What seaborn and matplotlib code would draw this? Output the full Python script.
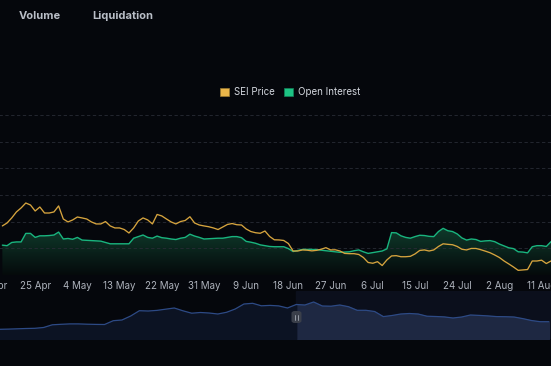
import numpy as np
import pandas as pd
import matplotlib
matplotlib.use("Agg")
import matplotlib.pyplot as plt
import matplotlib.dates as mdates
from matplotlib.colors import LinearSegmentedColormap
from matplotlib.patches import Rectangle, FancyBboxPatch
from matplotlib.lines import Line2D
import seaborn as sns

# daily values 18 Apr 2024 .. 13 Aug 2024
start_date = "2024-04-18"
sei_price = [
    0.568, 0.590, 0.628, 0.673, 0.703, 0.740, 0.725, 0.680, 0.710, 0.665,
    0.665, 0.673, 0.718, 0.620, 0.598, 0.613, 0.635, 0.628, 0.620, 0.598,
    0.583, 0.583, 0.601, 0.568, 0.553, 0.553, 0.541, 0.515, 0.553, 0.605,
    0.628, 0.613, 0.583, 0.654, 0.643, 0.620, 0.598, 0.583, 0.601, 0.609,
    0.637, 0.590, 0.575, 0.568, 0.562, 0.553, 0.541, 0.560, 0.579, 0.586,
    0.577, 0.575, 0.545, 0.526, 0.517, 0.513, 0.530, 0.489, 0.464, 0.463,
    0.459, 0.436, 0.380, 0.380, 0.388, 0.386, 0.381, 0.385, 0.393, 0.405,
    0.388, 0.389, 0.380, 0.362, 0.360, 0.360, 0.354, 0.331, 0.294, 0.288,
    0.300, 0.271, 0.313, 0.343, 0.345, 0.337, 0.337, 0.340, 0.358, 0.384,
    0.388, 0.380, 0.388, 0.414, 0.434, 0.430, 0.427, 0.414, 0.393, 0.388,
    0.399, 0.399, 0.390, 0.379, 0.367, 0.350, 0.331, 0.305, 0.283, 0.260,
    0.235, 0.238, 0.241, 0.305, 0.305, 0.311, 0.286, 0.305,
]
open_interest = [  # $M
    112, 110, 122, 124, 124, 156, 156, 141, 147, 147,
    148, 150, 161, 135, 137, 134, 141, 131, 130, 129,
    128, 127, 122, 117, 117, 117, 117, 117, 138, 144,
    150, 141, 138, 146, 140, 138, 135, 133, 138, 141,
    153, 146, 141, 135, 136, 137, 138, 138, 141, 144,
    144, 140, 126, 123, 119, 113, 110, 107, 106, 106,
    106, 99, 88, 92, 96, 96, 96, 95, 93, 91,
    89, 87, 85, 86, 87, 91, 94, 87, 81, 84,
    87, 90, 98, 159, 158, 147, 141, 138, 144, 149,
    148, 145, 144, 163, 175, 166, 163, 154, 139, 131,
    135, 133, 126, 128, 129, 125, 116, 109, 102, 99,
    87, 86, 83, 106, 110, 110, 107, 125,
]

# navigator series, every 4 days from 4 Dec 2023
nav_start = "2023-12-04"
nav_values = [
    97, 99, 102, 105, 107, 115, 142, 147, 151, 151,
    148, 146, 145, 183, 190, 230, 283, 280, 286, 298,
    310, 282, 258, 265, 260, 250, 267, 300, 350, 357,
    332, 336, 331, 310, 345, 340, 370, 330, 328, 340,
    323, 287, 287, 275, 224, 235, 250, 255, 250, 228,
    225, 221, 210, 220, 240, 236, 231, 224, 223, 220,
    204, 185, 173, 173,
]

tick_start = "2024-04-16"
tabs = ["Volume", "Liquidation"]
legend_labels = ["SEI Price", "Open Interest"]

BG = "#05070c"
YELLOW = "#d6a43e"
GREEN = "#19b47e"
NAV_LINE = "#2d4a85"

df = pd.DataFrame({
    "date": pd.date_range(start_date, periods=len(sei_price), freq="D"),
    "price": sei_price,
    "oi": open_interest,
})
nav = pd.DataFrame({
    "date": pd.date_range(nav_start, periods=len(nav_values), freq="4D"),
    "value": nav_values,
})
tick_dates = pd.date_range(tick_start, periods=14, freq="9D")
tick_labels = [f"{d.day} {d.strftime('%b')}" for d in tick_dates]

sns.set_theme(style="dark", rc={"axes.facecolor": BG, "figure.facecolor": BG})
plt.rcParams["font.family"] = ["Inter", "DejaVu Sans"]

W, H = 551, 366
fig = plt.figure(figsize=(W / 100, H / 100), dpi=100)

# main chart: plot area 115..275 px, x axis starts slightly left of the figure
left_px = -8.6
ax = fig.add_axes([left_px / W, (H - 275) / H, (W - left_px) / W, 160 / H])
ax.set_facecolor(BG)
ax2 = ax.twinx()

# gradient under open interest
x_num = mdates.date2num(df["date"])
poly = ax.fill_between(x_num, df["oi"], 0, facecolor="none", edgecolor="none")
cmap = LinearSegmentedColormap.from_list("oi_fill", ["#050a0b", "#0f3a2b"])
img = ax.imshow(np.linspace(0, 1, 256).reshape(-1, 1), cmap=cmap, aspect="auto",
                origin="lower", extent=[x_num[0], x_num[-1], 0, max(open_interest)],
                zorder=1)
img.set_clip_path(poly.get_paths()[0], transform=ax.transData)

sns.lineplot(data=df, x="date", y="oi", ax=ax, color=GREEN, linewidth=1.0, zorder=3)
sns.lineplot(data=df, x="date", y="price", ax=ax2, color=YELLOW, linewidth=0.95, zorder=3)

ax.set_ylim(0, 600)
ax.set_yticks(range(0, 601, 100))
ax2.set_ylim(0.2, 1.4)
ax.set_xlim(mdates.date2num(pd.Timestamp("2024-04-15 16:00")),
            mdates.date2num(pd.Timestamp("2024-08-13")))
ax.set_xticks(tick_dates)
ax.set_xticklabels(tick_labels)
ax.set_axisbelow("line")
ax.yaxis.grid(True, color="#282c35", linestyle=(0, (4, 3)), linewidth=0.6)
ax.xaxis.grid(False)
ax2.grid(False)
for a in (ax, ax2):
    for s in a.spines.values():
        s.set_visible(False)
    a.set_xlabel("")
    a.set_ylabel("")
    a.set_yticklabels([])
    a.tick_params(left=False, right=False, length=0)
ax.tick_params(axis="x", pad=4, labelsize=7, labelcolor="#aeb3bc")

# navigator (range selector) below the chart
nax = fig.add_axes([0, (H - 339) / H, 1, 48 / H])
nax.set_facecolor("#070a12")
sel_start = df["date"].iloc[0]
nav_end = pd.Timestamp("2024-08-13")
nax.axvspan(sel_start, nav_end, color="#0b0f1c", zorder=0)
nax.fill_between(nav["date"], nav["value"], 0,
                 where=nav["date"] >= sel_start - pd.Timedelta(days=4),
                 color="#1e2842", zorder=1)
nax.fill_between(nav["date"], nav["value"], 0,
                 where=nav["date"] <= sel_start, color="#0c1323", zorder=1.5)
sns.lineplot(data=nav, x="date", y="value", ax=nax, color=NAV_LINE, linewidth=0.9, zorder=2)
nax.set_xlim(nav["date"].iloc[0], nav_end)
nax.set_ylim(0, 480)
nax.axis("off")

# selector handle
hx, hy = 291.5, 311
fig.patches.append(FancyBboxPatch((hx / W, (H - hy - 12) / H), 10 / W, 12 / H,
                                  boxstyle="round,pad=0,rounding_size=0.006",
                                  transform=fig.transFigure, facecolor="#3a3f4a",
                                  edgecolor="none", zorder=5))
for dx in (-1.2, 1.2):
    fig.lines.append(Line2D([(hx + 5 + dx) / W] * 2, [(H - hy - 3.5) / H, (H - hy - 8.5) / H],
                            transform=fig.transFigure, color="#a4aab4", linewidth=0.6,
                            zorder=6))

# tabs
fig.text(19 / W, 1 - 16 / H, tabs[0], ha="left", va="center", fontsize=8,
         fontweight="bold", color="#b9bec7")
fig.text(92 / W, 1 - 16 / H, tabs[1], ha="left", va="center", fontsize=8,
         fontweight="bold", color="#b9bec7")

# legend
handles = [Rectangle((0, 0), 1, 1, facecolor="#eab54a", edgecolor="#9c7a30", linewidth=0.5),
           Rectangle((0, 0), 1, 1, facecolor="#1dc384", edgecolor="#12845a", linewidth=0.5)]
fig.legend(handles, legend_labels, loc="center", bbox_to_anchor=(290 / W, 1 - 92 / H),
           ncol=2, frameon=False, fontsize=7, labelcolor="#d2d6dd",
           handlelength=0.9, handleheight=0.9, handletextpad=0.5, columnspacing=1.0)

fig.savefig("out.png", dpi=100, facecolor=BG)
